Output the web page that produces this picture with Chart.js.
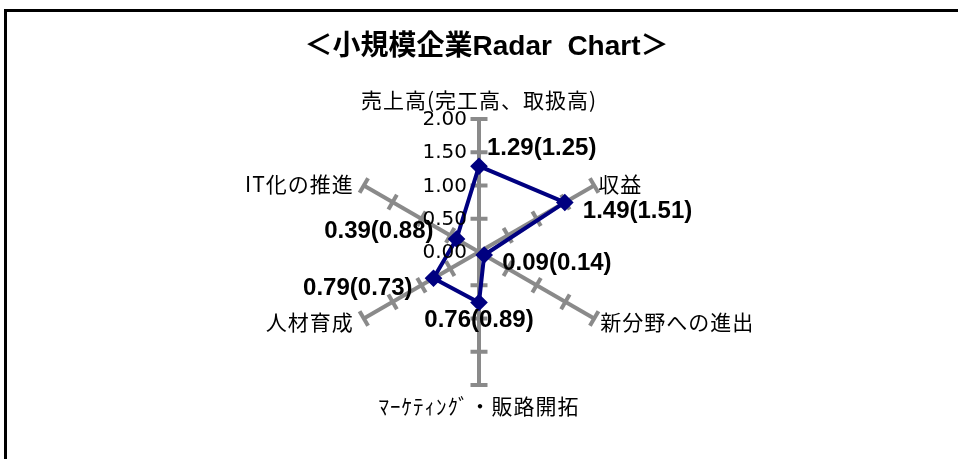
<!DOCTYPE html>
<html>
<head>
<meta charset="utf-8">
<script src="https://cdn.jsdelivr.net/npm/chart.js@4"></script>
<style>
  html, body { margin: 0; padding: 0; background: #fff; overflow: hidden; }
  #wrap { position: relative; width: 958px; height: 459px; }
  #frame { position: absolute; left: 4px; top: 9px; width: 1000px; height: 500px; border: 3px solid #000; box-sizing: border-box; }
  canvas { position: absolute; left: 0; top: 0; }
</style>
</head>
<body>
<div id="wrap">
  <div id="frame"></div>
  <canvas id="c" width="958" height="459"></canvas>
</div>
<script>
const titleText = '＜小規模企業Radar  Chart＞';
const categories = ['売上高(完工高、取扱高)', '収益', '新分野への進出', 'ﾏｰｹﾃｨﾝｸﾞ・販路開拓', '人材育成', 'IT化の推進'];
const currentValues = [1.29, 1.49, 0.09, 0.76, 0.79, 0.39];
const previousValues = [1.25, 1.51, 0.14, 0.89, 0.73, 0.88];
const tickLabels = ['0.00', '0.50', '1.00', '1.50', '2.00'];

const AXIS_COLOR = '#8a8a8a';
const LINE_COLOR = '#000080';
const CJK_FONT = '"Noto Sans CJK JP", sans-serif';

// label placement styles (relative to the library-computed anchor)
const pointLabelStyle = [
  {dx: 0, dy: -19, align: 'center'},
  {dx: 4, dy: -1, align: 'left'},
  {dx: 6, dy: 4, align: 'left'},
  {dx: 0, dy: 21, align: 'center'},
  {dx: -10, dy: 4, align: 'right'},
  {dx: -10, dy: -1, align: 'right'}
];
const dataLabelStyle = [
  {dx: 8, dy: -18, align: 'left'},
  {dx: 18, dy: 9, align: 'left'},
  {dx: 18, dy: 8, align: 'left'},
  {dx: 0, dy: 18, align: 'center'},
  {dx: -21, dy: 10, align: 'right'},
  {dx: -23, dy: -8, align: 'right'}
];

const decor = {
  id: 'decor',
  beforeDatasetsDraw(chart) {
    const s = chart.scales.r, ctx = chart.ctx;
    ctx.save();
    ctx.strokeStyle = AXIS_COLOR;
    ctx.lineWidth = 4;
    for (let i = 0; i < categories.length; i++) {
      for (const t of s.ticks) {
        if (t.value === 0) continue;
        const p = s.getPointPositionForValue(i, t.value);
        const a = s.getIndexAngle(i) - Math.PI / 2;
        const px = -Math.sin(a), py = Math.cos(a);
        ctx.beginPath();
        ctx.moveTo(p.x - px * 8.5, p.y - py * 8.5);
        ctx.lineTo(p.x + px * 8.5, p.y + py * 8.5);
        ctx.stroke();
      }
    }
    ctx.restore();
  },
  afterDraw(chart) {
    const s = chart.scales.r, ctx = chart.ctx;
    ctx.save();
    ctx.fillStyle = '#000';
    ctx.textBaseline = 'middle';
    // title
    ctx.font = 'bold 28px "Liberation Sans", "Noto Sans CJK JP", sans-serif';
    ctx.textAlign = 'center';
    ctx.fillText(titleText, 486.5, 47);
    // category labels
    ctx.font = '21px ' + CJK_FONT;
    if ('letterSpacing' in ctx) ctx.letterSpacing = '1px';
    for (let i = 0; i < categories.length; i++) {
      const p = s.getPointPosition(i, s.drawingArea);
      const st = pointLabelStyle[i];
      ctx.textAlign = st.align;
      ctx.fillText(categories[i], p.x + st.dx, p.y + st.dy);
    }
    if ('letterSpacing' in ctx) ctx.letterSpacing = '0px';
    // tick labels along the vertical axis
    ctx.font = '20px "DejaVu Sans", sans-serif';
    ctx.textAlign = 'right';
    s.ticks.forEach((t, k) => {
      const p = s.getPointPositionForValue(0, t.value);
      ctx.fillText(tickLabels[k], p.x - 12, p.y + 1);
    });
    // data labels
    ctx.font = 'bold 24px "Liberation Sans", sans-serif';
    const meta = chart.getDatasetMeta(0);
    meta.data.forEach((pt, i) => {
      const st = dataLabelStyle[i];
      ctx.textAlign = st.align;
      ctx.fillText(currentValues[i].toFixed(2) + '(' + previousValues[i].toFixed(2) + ')', pt.x + st.dx, pt.y + st.dy);
    });
    ctx.restore();
  }
};

new Chart(document.getElementById('c'), {
  type: 'radar',
  data: {
    labels: categories,
    datasets: [{
      data: currentValues,
      fill: false,
      borderColor: LINE_COLOR,
      borderWidth: 4,
      pointStyle: 'rectRot',
      pointRadius: 6,
      pointBackgroundColor: LINE_COLOR,
      pointBorderColor: LINE_COLOR,
      tension: 0
    }]
  },
  options: {
    responsive: false,
    animation: false,
    layout: { padding: { left: 346, right: 346, top: 119, bottom: 74 } },
    plugins: { legend: { display: false }, tooltip: { enabled: false }, title: { display: false } },
    scales: {
      r: {
        min: 0,
        max: 2,
        ticks: { display: false, stepSize: 0.5, callback: v => v.toFixed(2) },
        grid: { display: false },
        angleLines: { display: true, color: AXIS_COLOR, lineWidth: 4 },
        pointLabels: { display: false }
      }
    }
  },
  plugins: [decor]
});
</script>
</body>
</html>
